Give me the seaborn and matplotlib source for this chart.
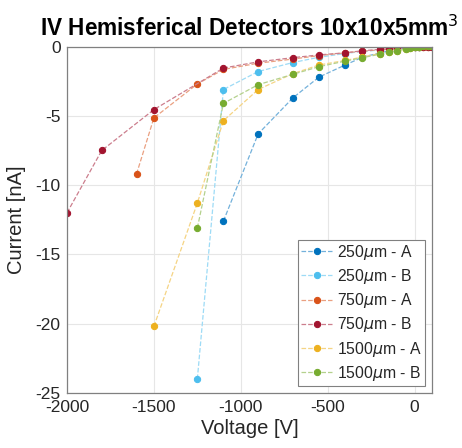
import numpy as np
import pandas as pd
import matplotlib
matplotlib.use("Agg")
import matplotlib.pyplot as plt
import matplotlib.colors as mcolors
import seaborn as sns

# voltages [V] and currents [nA]
v_tail = [-400, -300, -200, -150, -100, -50, -25, 0, 25, 50, 75, 100]

v_250A = [-1100, -900, -700, -550] + v_tail
i_250A = [-12.6, -6.3, -3.7, -2.2, -1.33, -0.77, -0.45, -0.32, -0.2, -0.1, -0.06, -0.03, 0.0, 0.02, 0.04, 0.05]

v_250B = [-1250, -1100, -900, -700, -550] + v_tail
i_250B = [-24.0, -3.1, -1.8, -1.15, -0.77, -0.5, -0.35, -0.25, -0.18, -0.12, -0.07, -0.05, -0.02, 0.0, 0.02, 0.03, 0.04]

v_750A = [-1600, -1500, -1250, -1100, -900, -700, -550] + v_tail
i_750A = [-9.2, -5.15, -2.7, -1.65, -1.2, -0.9, -0.65,
          -0.45, -0.33, -0.23, -0.17, -0.12, -0.08, -0.06, -0.04, -0.03, -0.03, -0.04, -0.05]

v_750B = [-2000, -1800, -1500, -1100, -900, -700, -550] + v_tail
i_750B = [-12.0, -7.5, -4.55, -1.55, -1.1, -0.8, -0.6,
          -0.45, -0.3, -0.2, -0.15, -0.1, -0.07, -0.05, -0.03, -0.02, -0.03, -0.04, -0.05]

v_1500A = [-1500, -1250, -1100, -900, -700, -550] + v_tail
i_1500A = [-20.2, -11.3, -5.35, -3.1, -1.95, -1.33,
           -1.0, -0.75, -0.5, -0.4, -0.3, -0.17, -0.1, -0.05, 0.0, 0.02, 0.04, 0.06]

v_1500B = [-1250, -1100, -900, -700, -550] + v_tail
i_1500B = [-13.1, -4.1, -2.75, -2.0, -1.45,
           -1.05, -0.8, -0.55, -0.42, -0.3, -0.17, -0.1, -0.05, 0.0, 0.03, 0.05, 0.07]

labels = [r'250$\mu$m - A', r'250$\mu$m - B', r'750$\mu$m - A',
          r'750$\mu$m - B', r'1500$\mu$m - A', r'1500$\mu$m - B']
colors = ['#0072BD', '#4DBEEE', '#D95319', '#A2142F', '#EDB120', '#77AC30']
voltages = [v_250A, v_250B, v_750A, v_750B, v_1500A, v_1500B]
currents = [i_250A, i_250B, i_750A, i_750B, i_1500A, i_1500B]

df = pd.concat([pd.DataFrame({'V': v, 'I': i, 'det': lab})
                for v, i, lab in zip(voltages, currents, labels)], ignore_index=True)

sns.set_style("whitegrid")
plt.rcParams['font.family'] = ['Liberation Sans', 'DejaVu Sans']
plt.rcParams['mathtext.fontset'] = 'dejavusans'
plt.rcParams['axes.unicode_minus'] = False

fig = plt.figure(figsize=(4.62, 4.48), dpi=100)
ax = fig.add_axes([0.145, 0.123, 0.79, 0.773])

for lab, c in zip(labels, colors):
    light = tuple(np.array(mcolors.to_rgb(c)) * 0.55 + 0.45)
    sns.lineplot(data=df[df.det == lab], x='V', y='I', ax=ax, label=lab,
                 color=light, linestyle='--', linewidth=0.9, marker='o',
                 markersize=4.5, markerfacecolor=c, markeredgecolor=c)

ax.set_xlim(-2000, 100)
ax.set_ylim(-25, 0)
ax.set_xticks([-2000, -1500, -1000, -500, 0])
ax.set_yticks([0, -5, -10, -15, -20, -25])
ax.grid(True, color='#e6e6e6', linewidth=0.8)
for s in ax.spines.values():
    s.set_color('#808080')
    s.set_linewidth(0.9)
ax.tick_params(direction='in', length=3, color='#808080', labelsize=12.5,
               labelcolor='#262626')
ax.tick_params(axis='x', pad=5)
ax.tick_params(axis='y', pad=4.5)

ax.set_xlabel('Voltage [V]', fontsize=14.5, color='#262626', labelpad=3)
ax.set_ylabel('Current [nA]', fontsize=14.5, color='#262626', labelpad=7)
ax.set_title(r'IV Hemisferical Detectors 10x10x5mm$^3$', fontsize=16.3,
             fontweight='bold', color='black', pad=8)

leg = ax.legend(loc='lower right', fontsize=11.3, frameon=True, fancybox=False,
                handlelength=2.0, handletextpad=0.3, labelspacing=0.33,
                borderpad=0.2, borderaxespad=0.45, framealpha=1)
leg.get_frame().set_edgecolor('#808080')
leg.get_frame().set_linewidth(0.8)

fig.savefig('out.png', dpi=100)
